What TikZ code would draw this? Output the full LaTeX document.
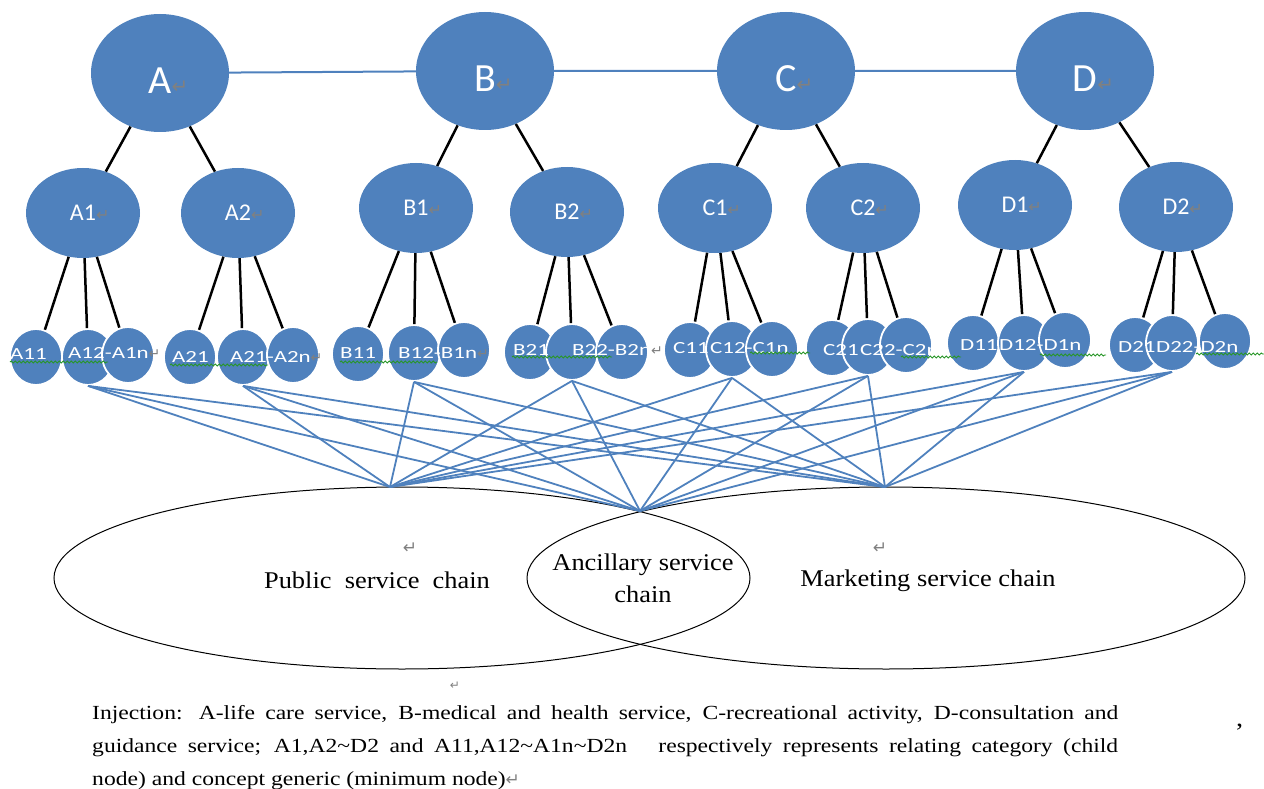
\documentclass[tikz,border=0pt]{standalone}
\usepackage{fontspec}
\newfontfamily\nodefont{Carlito}
\newfontfamily\leaffont[FakeStretch=1.35]{Carlito}
\newfontfamily\chainfont[FakeStretch=1.1]{Liberation Serif}
\newfontfamily\notefont[FakeStretch=1.18]{Liberation Serif}
\newfontfamily\symfont{DejaVu Sans}
\definecolor{nodeblue}{RGB}{79,129,189}
\definecolor{retgray}{RGB}{128,128,128}
\definecolor{spellgreen}{RGB}{40,150,40}
\usetikzlibrary{shapes.geometric,decorations.pathmorphing}
\newcommand{\retmark}[1]{{\symfont\fontsize{#1}{#1}\selectfont\color{retgray}↵}}

\tikzset{
  topnode/.style={ellipse,fill=nodeblue,inner sep=0,minimum width=138pt,minimum height=118pt,
    text=white,text height=42pt,text depth=0pt,font=\nodefont\fontsize{40}{40}\selectfont},
  midnode/.style={ellipse,fill=nodeblue,inner sep=0,minimum width=114pt,minimum height=90pt,
    text=white,font=\nodefont\fontsize{24}{24}\selectfont},
  leafnode/.style={ellipse,fill=nodeblue,draw=white,line width=1.8pt,inner sep=0,
    minimum width=52pt,minimum height=56pt},
  leaflabel/.style={anchor=west,inner sep=0,text=white,font=\leaffont\fontsize{17}{17}\selectfont},
  chain/.style={ellipse,draw=black,line width=1pt,inner sep=0,minimum height=182pt},
  chaintext/.style={inner sep=0,font=\chainfont\fontsize{24}{32}\selectfont},
  tree/.style={black,line width=2.5pt},
  link/.style={nodeblue,line width=1.8pt},
  spell/.style={draw=spellgreen,line width=0.9pt,decorate,
    decoration={snake,amplitude=1pt,segment length=4pt}},
}

\begin{document}
\begin{tikzpicture}[x=1pt,y=-1pt]
  \useasboundingbox (0,0) rectangle (1264,789);

  % top level
  \foreach \n/\l/\x/\y in {a/A/160/73,b/B/485/71,c/C/786/71,d/D/1085/71} {
    \node[topnode] (\n) at (\x,\y) {\l\rlap{\retmark{20}}};
  }
  \draw[nodeblue,line width=2pt] (a) -- (b) -- (c) -- (d);

  % child nodes
  \foreach \n/\l/\x/\y in {a1/A1/83/213,a2/A2/238/213,b1/B1/416/208,b2/B2/567/212,
      c1/C1/715/208,c2/C2/863/208,d1/D1/1015/205,d2/D2/1176/207} {
    \node[midnode] (\n) at (\x,\y) {\l\rlap{\retmark{16}}};
  }
  \foreach \p/\c in {a/a1,a/a2,b/b1,b/b2,c/c1,c/c2,d/d1,d/d2} {
    \draw[tree] (\p) -- (\c);
  }

  % minimum nodes
  \foreach \g/\xa/\ya/\xb/\yb/\xc/\yc in {a1/36/357/88/357/128/355,a2/190/357/243/357/293/355,
      b1/358/354/414/353/464/350,b2/530/352/572/352/622/352,
      c1/690/350/732/349/772/349,c2/832/348/868/347/906/345,
      d1/973/343/1024/343/1065/340,d2/1135/345/1172/343/1225/341} {
    \node[leafnode] (\g-1) at (\xa,\ya) {};
    \node[leafnode] (\g-2) at (\xb,\yb) {};
    \node[leafnode] (\g-3) at (\xc,\yc) {};
    \foreach \k in {1,2,3} \draw[tree] (\g) -- (\g-\k);
  }
  \foreach \x/\y/\t [count=\i] in {10/354/A11,68/353/{A12-A1n\retmark{14}},
      172/357/A21,230/357/{A21-A2n\retmark{14}},
      340/353/B11,398/353/{B12-B1n\retmark{14}},
      513/350/B21,572/350/{B22-B2n\retmark{14}},
      673/348/C11,710/348/C12-C1n,823/350/C21,860/350/C22-C2n,
      960/345/D11,999/345/D12-D1n,1118/347/D21,1156/347/D22-D2n} {
    \node[leaflabel] (lbl\i) at (\x,\y) {\t};
  }
  \foreach \xa/\xb/\y in {10/108/362,170/268/365,340/437/362,512/612/357,
      750/810/353,901/961/357,1040/1106/355,1196/1264/354} {
    \draw[spell] (\xa,\y) -- (\xb,\y);
  }

  % service chains
  \node[chain,minimum width=696pt] (pub) at (402,578) {};
  \node[chain,minimum width=718pt] (mkt) at (886,578) {};
  \coordinate (pubtop) at (390,487);
  \coordinate (anctop) at (640,511);
  \coordinate (mkttop) at (885,487);
  \foreach \g in {a1,a2,b1,b2,c1,c2,d1,d2} {
    \foreach \t in {pubtop,anctop,mkttop} \draw[link] (\g-2.south) -- (\t);
  }
  \node[chaintext] (pubtext) at (377,580) {Public~~service~~chain};
  \node[chaintext,align=center] (anctext) at (643,578) {Ancillary service\\chain};
  \node[chaintext] (mkttext) at (928,581) {Marketing service chain};
  \node[inner sep=0] (pubret) at (410,548) {\retmark{17}};
  \node[inner sep=0] (mktret) at (880,548) {\retmark{17}};

  % note
  \node[inner sep=0] (noteret) at (455,686) {\retmark{12}};
  \begin{scope}[every node/.style={anchor=base west,inner sep=0,
      font=\notefont\fontsize{20}{20}\selectfont}]
    \node (note1) at (92,719) {\makebox[1026pt][s]{Injection: A-life care service, B-medical and health service, C-recreational activity, D-consultation and}};
    \node (note2) at (92,752) {\makebox[1026pt][s]{guidance service; A1,A2\textasciitilde D2 and A11,A12\textasciitilde A1n\textasciitilde D2n\ \ \ respectively represents relating category (child}};
    \node (note3) at (92,785) {node) and concept generic (minimum node)\retmark{17}};
    \node (comma) at (1236,726) {\fontsize{24}{24}\selectfont,};
  \end{scope}
\end{tikzpicture}
\end{document}
